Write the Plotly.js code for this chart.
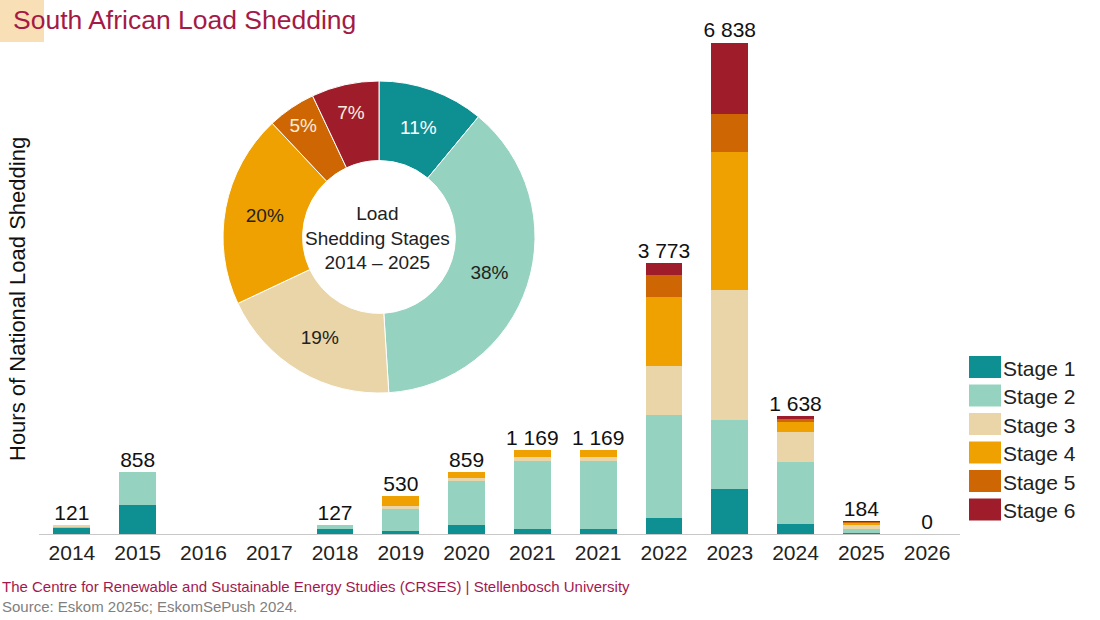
<!DOCTYPE html>
<html>
<head>
<meta charset="utf-8">
<script src="https://cdn.plot.ly/plotly-3.0.1.min.js"></script>
<style>
  html, body { margin: 0; padding: 0; background: #fff; }
  #chart { width: 1100px; height: 620px; }
</style>
</head>
<body>
<div id="chart"></div>
<script>
// years on the x axis (the 2021 label appears twice in the source)
const years = ['2014', '2015', '2016', '2017', '2018', '2019', '2020', '2021', '2021', '2022', '2023', '2024', '2025', '2026'];

// hours per stage
const stage1 = [85, 410, 0, 0, 70, 42, 125, 74, 74, 217, 623, 139, 20, 0];
const stage2 = [15, 448, 0, 0, 57, 306, 618, 937, 937, 1435, 965, 868, 56, 0];
const stage3 = [21, 0, 0, 0, 0, 37, 37, 65, 65, 683, 1801, 418, 48, 0];
const stage4 = [0, 0, 0, 0, 0, 145, 79, 93, 93, 957, 1932, 130, 25, 0];
const stage5 = [0, 0, 0, 0, 0, 0, 0, 0, 0, 316, 520, 46, 21, 0];
const stage6 = [0, 0, 0, 0, 0, 0, 0, 0, 0, 165, 997, 37, 14, 0];

// labelled totals above the bars
const totals = [121, 858, null, null, 127, 530, 859, 1169, 1169, 3773, 6838, 1638, 184, 0];

// donut: share of all load shedding per stage, 2014 - 2025
const stageNames = ['Stage 1', 'Stage 2', 'Stage 3', 'Stage 4', 'Stage 5', 'Stage 6'];
const stageShare = [11, 38, 19, 20, 5, 7];

const stageColors = ['#0e8f91', '#95d2bf', '#ead5a8', '#eea100', '#cd6603', '#9f1d2b'];
const pieTextColors = ['#ffffff', '#222222', '#222222', '#222222', '#fbeede', '#fbeede'];
const FONT = 'Liberation Sans, Arial, sans-serif';

// plot area in pixels (margins below), used to place decorations in paper coords
const M = { l: 39, r: 140, t: 31, b: 86 };
const W = 1100, H = 620;
const PW = W - M.l - M.r, PH = H - M.t - M.b;
const px = x => (x - M.l) / PW;
const py = y => (H - M.b - y) / PH;

const xs = years.map((_, i) => i);
const stages = [stage1, stage2, stage3, stage4, stage5, stage6];

const traces = stages.map((vals, k) => ({
  type: 'bar',
  x: xs,
  y: vals,
  name: stageNames[k],
  width: 0.56,
  marker: { color: stageColors[k], line: { width: 0 } },
  hoverinfo: 'skip',
  showlegend: false
}));

// total labels
traces.push({
  type: 'scatter',
  mode: 'text',
  x: xs,
  y: totals.map(v => v == null ? 0 : v),
  text: totals.map(v => v == null ? '' : String(v).replace(/\B(?=(\d{3})+(?!\d))/g, ' ')),
  textposition: 'top center',
  textfont: { family: FONT, size: 21, color: '#111' },
  hoverinfo: 'skip',
  showlegend: false,
  cliponaxis: false
});

// donut
const pieC = { x: 379, y: 237, r: 156 };
traces.push({
  type: 'pie',
  labels: stageNames,
  values: stageShare,
  hole: 0.49,
  sort: false,
  direction: 'clockwise',
  rotation: 0,
  texttemplate: '%{value}%',
  textposition: 'inside',
  insidetextorientation: 'horizontal',
  textfont: { family: FONT, size: 19, color: pieTextColors },
  marker: { colors: stageColors, line: { color: '#ffffff', width: 1 } },
  domain: {
    x: [px(pieC.x - pieC.r), px(pieC.x + pieC.r)],
    y: [py(pieC.y + pieC.r), py(pieC.y - pieC.r)]
  },
  hoverinfo: 'skip',
  showlegend: false
});

const shapes = [{
  type: 'rect', xref: 'paper', yref: 'paper',
  x0: px(0), x1: px(44), y0: py(42), y1: py(0),
  fillcolor: '#f8dfb6', line: { width: 0 }, layer: 'below'
}];

const annotations = [
  {
    text: 'South African Load Shedding', xref: 'paper', yref: 'paper',
    x: px(11), y: py(20), xanchor: 'left', yanchor: 'middle', showarrow: false,
    font: { family: FONT, size: 26.5, color: '#a51a45' }
  },
  {
    text: 'Hours of National Load Shedding', xref: 'paper', yref: 'paper',
    x: px(18), y: py(299), xanchor: 'center', yanchor: 'middle', showarrow: false,
    textangle: -90, font: { family: FONT, size: 22, color: '#111' }
  },
  {
    text: 'Load<br>Shedding Stages<br>2014 \u2013 2025', xref: 'paper', yref: 'paper',
    x: px(pieC.x - 2), y: py(pieC.y + 1), xanchor: 'center', yanchor: 'middle', showarrow: false,
    font: { family: FONT, size: 19, color: '#222' }
  },
  {
    text: 'The Centre for Renewable and Sustainable Energy Studies (CRSES) | Stellenbosch University',
    xref: 'paper', yref: 'paper', x: px(0), y: py(586), xanchor: 'left', yanchor: 'middle',
    showarrow: false, font: { family: FONT, size: 15, color: '#a3194f' }
  },
  {
    text: 'Source: Eskom 2025c; EskomSePush 2024.',
    xref: 'paper', yref: 'paper', x: px(0), y: py(606), xanchor: 'left', yanchor: 'middle',
    showarrow: false, font: { family: FONT, size: 15, color: '#808080' }
  }
];

// custom legend with large swatches
stageNames.forEach((name, k) => {
  const cy = 367 + k * 28.5;
  shapes.push({
    type: 'rect', xref: 'paper', yref: 'paper',
    x0: px(969), x1: px(1001), y0: py(cy + 11), y1: py(cy - 11),
    fillcolor: stageColors[k], line: { width: 0 }
  });
  annotations.push({
    text: name, xref: 'paper', yref: 'paper', x: px(1001), y: py(cy + 1),
    xanchor: 'left', yanchor: 'middle', showarrow: false,
    font: { family: FONT, size: 21, color: '#222' }
  });
});

const layout = {
  width: W,
  height: H,
  margin: M,
  barmode: 'stack',
  paper_bgcolor: '#ffffff',
  plot_bgcolor: '#ffffff',
  font: { family: FONT },
  showlegend: false,
  xaxis: {
    range: [-0.5, 13.5],
    tickmode: 'array',
    tickvals: xs,
    ticktext: years,
    tickfont: { family: FONT, size: 21, color: '#222' },
    showline: true,
    linecolor: '#c8c8c8',
    linewidth: 1,
    ticks: '',
    showgrid: false,
    zeroline: false,
    fixedrange: true
  },
  yaxis: {
    range: [0, 7000],
    showticklabels: false,
    showgrid: false,
    zeroline: false,
    ticks: '',
    fixedrange: true
  },
  shapes,
  annotations
};

Plotly.newPlot('chart', traces, layout, { displayModeBar: false, staticPlot: true });
</script>
</body>
</html>
